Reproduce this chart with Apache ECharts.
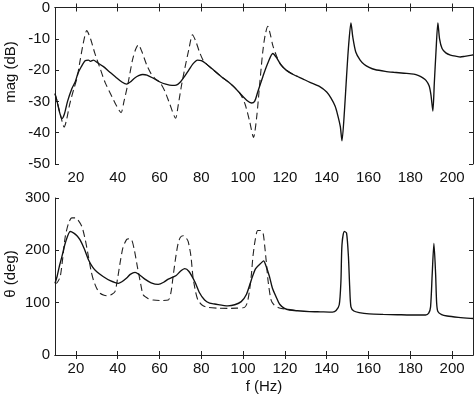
<!DOCTYPE html>
<html>
<head>
<meta charset="utf-8">
<script src="https://cdn.jsdelivr.net/npm/echarts@6/dist/echarts.min.js"></script>
<style>html,body{margin:0;padding:0;background:#fff}#c{width:474px;height:395px}</style>
</head>
<body>
<div id="c"></div>
<script>
// ---- data ----
const xTicks = [20, 40, 60, 80, 100, 120, 140, 160, 180, 200];
const magTicks = [0, -10, -20, -30, -40, -50];
const phaseTicks = [0, 100, 200, 300];

const fSolidMag = [10,11,12,13.3,14.5,16,18,19.7,21,22.5,24.4,26,27,28.4,30,33.2,36,39,42,44.3,46,48,50,52,54,57,60.2,63,66,68,70,72,74,76,78.2,80,82,85,89.6,93,96,99,102,104,105.5,107,108.5,110,112,114.2,116,118,120.6,124,128.5,132,136.5,140,142,144,145.2,146.5,147.3,148.5,149.5,150.5,151.6,152.5,153.9,156,158,160.3,163,168,172,177,181.7,184,186,187.5,189,189.9,190.8,191.5,192.3,193.2,194,195.2,197,199.2,202,204,206,209.5,210];
const solidMag = [-27.5,-30,-33,-35.5,-34,-30,-26,-23.7,-21,-19,-17,-16.8,-17.2,-16.8,-17.5,-18.9,-20.5,-22.2,-23.8,-24.5,-23.8,-22.6,-21.8,-21.4,-21.6,-22.6,-23.8,-24.5,-24.9,-24.8,-23.8,-22,-20,-18,-16.8,-17,-17.8,-19.5,-22.1,-23.8,-25.6,-27.8,-29.8,-30.5,-30,-27,-24,-21,-17.5,-14.7,-16,-18.2,-20,-21.4,-22.8,-23.9,-25.2,-27,-28.9,-31.5,-34.2,-38,-42.6,-33,-22,-12,-4.9,-9.5,-14.2,-16.8,-18.2,-19.1,-19.8,-20.4,-20.7,-21,-21.3,-21.8,-22.5,-23.3,-25,-28,-33.1,-24,-14,-4.9,-10,-13.1,-14.5,-15.2,-15.6,-15.8,-15.6,-15.2,-15.1];

const fDashMag = [10,11,12.5,14.4,15.5,17,19,20.5,22,23.5,25.2,27,29,31.6,34,37.2,39.5,41.6,43,45.1,47,48.5,49.9,51.5,53.9,56,58,60.2,62.6,65,67.7,69,70.5,72.1,74,75.8,77.5,79,80.8,82,85,89.6,93,96,99,101,103,105,106.5,108,109.4,110.5,111.8,113,114.2,116,118,120.6,124,126];
const dashMag = [-27.5,-30,-34,-38.2,-36,-31,-26,-22.6,-17,-11.5,-7.4,-10,-14.5,-19.5,-24,-28.4,-31.5,-33.6,-30,-23.7,-17,-13.5,-11.9,-14,-18.4,-21.2,-22.8,-23.9,-26.8,-31,-35.4,-31,-25,-19.5,-13.5,-8.7,-11,-14,-16.8,-17.8,-19.5,-22.1,-23.8,-25.6,-28,-31,-36,-41.5,-35,-24,-14.2,-9,-6,-8.5,-12.1,-15.5,-18.2,-20,-21.4,-22];

const fSolidPh = [10,11,12,13.3,15,17.3,19,20.5,22,24,26,28,30,33,36.4,40.3,42,44.3,46,48.3,50.5,53,56,59.4,62,64.2,68,70,72.1,74,76.9,79,81.6,84,86.4,92.7,96,99.1,101.5,103.9,106,108.7,109.8,110.8,112.6,114,115.8,117.5,119.8,122.2,126,131.7,137,142.8,144.5,146,146.8,147.3,148.4,149.5,150.4,151,151.6,153,155.5,160.3,167,173.8,180,187.3,188.8,189.7,190.5,191.3,192.1,192.6,193.2,195,197.6,203,208.8,210];
const solidPh = [137,150,168,188,215,236,233,228,220,203,182,168,159,150,142,137,140,147,154,158,153,145,138,135,139,145,152,160,165,160,140,120,105,99,97.5,94,96,102,115,143,165,176,180,172,150,128,111,97,89,86,84.5,83,82.5,82,85,96,140,210,236,233,188,130,92,84,81,78.5,77.5,77,76.5,76.5,80,92,156,213,156,100,83,77,74.5,72,70,69.8];

const fDashPh = [10,11,12.5,13.7,14.9,16.5,18,19.7,21,22.9,24.5,26,27.3,28.4,30,31.6,33.5,35.5,37.2,38.7,39.9,41.1,42.5,44.3,45.5,46.7,48,49.4,50.8,52.2,54.5,57,60.2,64.2,65.5,66.5,67.7,68.9,70,71.3,72.5,73.7,75,76,77.2,78.4,80.5,83.2,88,92.7,97,100.7,102,103.1,104,104.7,105.8,107,108.5,109.6,110.3,111,112,113.4,115,117.4,120,123,125];
const dashPh = [136,138,150,185,226,252,262,262,258,245,220,188,160,143,127,118,114,113,116,121,145,175,205,221,222,220,200,169,140,115,108,105,104,105,120,150,185,213,225,228,225,217,190,150,122,105,95,91,89.5,89,89.5,91,100,124,155,188,220,238,238,232,210,182,140,105,95,90,88,86.5,85];

function pairs(xs, ys) { return xs.map((x, i) => [x, ys[i]]); }

const FONT = 'Liberation Sans, Arial, Helvetica, sans-serif';
const FS = 15;
const grids = [
  { left: 55, top: 5, width: 418, height: 159 },
  { left: 55, top: 198, width: 418, height: 157 }
];
const axisLine = { show: true, lineStyle: { color: '#222', width: 1 } };
const tick = { show: true, inside: true, length: 4, lineStyle: { color: '#222', width: 1 } };
const lbl = { color: '#111', fontSize: FS, fontFamily: FONT };

function xAx(gi, pos, showLabel) {
  return {
    type: 'value', gridIndex: gi, position: pos, min: 10, max: 210,
    axisLine: axisLine,
    axisTick: Object.assign({}, tick, { customValues: xTicks }),
    axisLabel: Object.assign({}, lbl, { show: showLabel, customValues: xTicks, margin: 6 }),
    splitLine: { show: false }
  };
}
function yAx(gi, pos, min, max, interval, showLabel) {
  return {
    type: 'value', gridIndex: gi, position: pos, min: min, max: max, interval: interval,
    axisLine: axisLine,
    axisTick: Object.assign({}, tick),
    axisLabel: Object.assign({}, lbl, { show: showLabel, margin: 5 }),
    splitLine: { show: false }
  };
}

const chart = echarts.init(document.getElementById('c'), null, { renderer: 'canvas' });
chart.setOption({
  animation: false,
  backgroundColor: '#fff',
  grid: grids,
  xAxis: [
    xAx(0, 'bottom', true), xAx(0, 'top', false),
    xAx(1, 'bottom', true), xAx(1, 'top', false)
  ],
  yAxis: [
    yAx(0, 'left', -50, 0, 10, true), yAx(0, 'right', -50, 0, 10, false),
    yAx(1, 'left', 0, 300, 100, true), yAx(1, 'right', 0, 300, 100, false)
  ],
  graphic: [
    { type: 'text', x: 11, y: 72, rotation: Math.PI / 2,
      style: { text: 'mag (dB)', font: FS + 'px ' + FONT, fill: '#111', textAlign: 'center', textVerticalAlign: 'middle' } },
    { type: 'text', x: 11, y: 274, rotation: Math.PI / 2,
      style: { text: 'θ (deg)', font: FS + 'px ' + FONT, fill: '#111', textAlign: 'center', textVerticalAlign: 'middle' } },
    { type: 'text', x: 264, y: 387,
      style: { text: 'f (Hz)', font: FS + 'px ' + FONT, fill: '#111', textAlign: 'center', textVerticalAlign: 'middle' } }
  ],
  series: [
    { type: 'line', xAxisIndex: 0, yAxisIndex: 0, data: pairs(fDashMag, dashMag), showSymbol: false, smooth: 0.25,
      lineStyle: { color: '#222', width: 1.1, type: [7, 4] } },
    { type: 'line', xAxisIndex: 0, yAxisIndex: 0, data: pairs(fSolidMag, solidMag), showSymbol: false, smooth: 0.25,
      lineStyle: { color: '#111', width: 1.35 } },
    { type: 'line', xAxisIndex: 2, yAxisIndex: 2, data: pairs(fDashPh, dashPh), showSymbol: false, smooth: 0.25,
      lineStyle: { color: '#222', width: 1.1, type: [7, 4] } },
    { type: 'line', xAxisIndex: 2, yAxisIndex: 2, data: pairs(fSolidPh, solidPh), showSymbol: false, smooth: 0.25,
      lineStyle: { color: '#111', width: 1.35 } }
  ]
});
</script>
</body>
</html>
